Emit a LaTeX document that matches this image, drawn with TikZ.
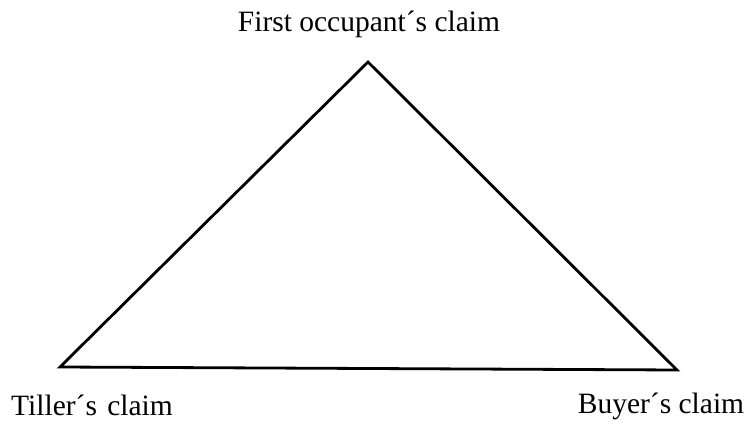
\documentclass[tikz,border=0pt]{standalone}
\usepackage{fontspec}
\setmainfont{Liberation Serif}
\begin{document}
\begin{tikzpicture}[x=1pt,y=1pt,
  lbl/.style={anchor=base,inner sep=0pt,font=\fontsize{29.5}{31}\selectfont},
  edge/.style={line width=2.8pt,line join=miter}]
\useasboundingbox (0,0) rectangle (745,424);
\coordinate (top) at (368,362);
\coordinate (left) at (60,57);
\coordinate (right) at (677,54);
\draw[edge] (left) -- (top) -- (right) -- cycle;
\node[lbl] (tl) at (369,392) {First occupant´s claim};
\node[lbl] (ll) at (92,9) {Tiller´s\hspace{0.35em}claim};
\node[lbl] (rl) at (661,11) {Buyer´s claim};
\end{tikzpicture}
\end{document}
